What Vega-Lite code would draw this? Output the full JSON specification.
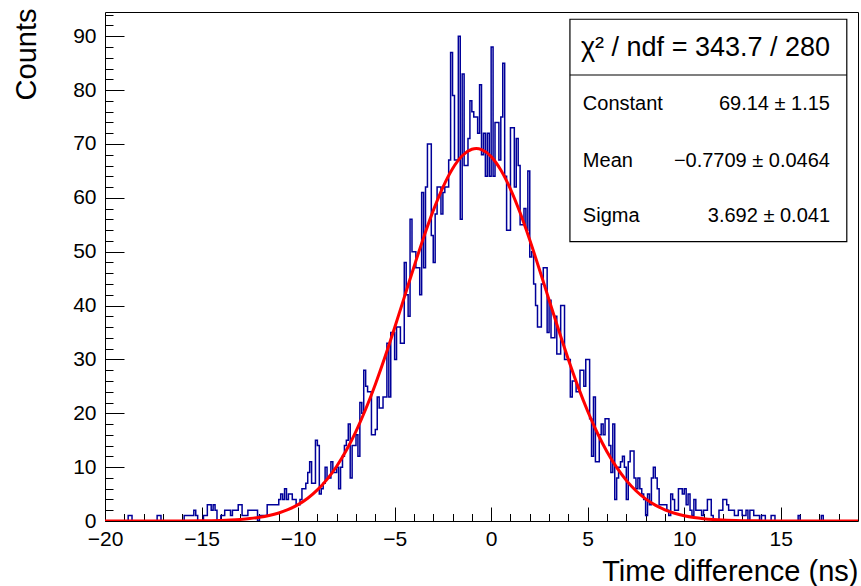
{
"$schema":"https://vega.github.io/schema/vega-lite/v6.json",
"width":753,"height":509,
"autosize":{"type":"none"},
"padding":{"left":105,"top":12,"right":3,"bottom":65},
"config":{"view":{"stroke":"black","strokeWidth":1},"font":"Liberation Sans","axis":{"labelFont":"Liberation Sans","titleFont":"Liberation Sans","labelColor":"black","titleColor":"black","tickColor":"black","grid":false,"domain":false}},
"datasets":{
"one":[{}],
"hist":[
{"t":-20.0,"n":0},{"t":-19.9,"n":0},{"t":-19.8,"n":0},{"t":-19.7,"n":0},{"t":-19.6,"n":0},{"t":-19.5,"n":0},{"t":-19.4,"n":0},{"t":-19.3,"n":0},{"t":-19.2,"n":0},{"t":-19.1,"n":0},
{"t":-19.0,"n":0},{"t":-18.9,"n":0},{"t":-18.8,"n":1},{"t":-18.7,"n":1},{"t":-18.6,"n":0},{"t":-18.5,"n":0},{"t":-18.4,"n":0},{"t":-18.3,"n":0},{"t":-18.2,"n":0},{"t":-18.1,"n":0},
{"t":-18.0,"n":0},{"t":-17.9,"n":0},{"t":-17.8,"n":0},{"t":-17.7,"n":0},{"t":-17.6,"n":0},{"t":-17.5,"n":0},{"t":-17.4,"n":0},{"t":-17.3,"n":1},{"t":-17.2,"n":1},{"t":-17.1,"n":0},
{"t":-17.0,"n":0},{"t":-16.9,"n":0},{"t":-16.8,"n":0},{"t":-16.7,"n":0},{"t":-16.6,"n":0},{"t":-16.5,"n":0},{"t":-16.4,"n":0},{"t":-16.3,"n":0},{"t":-16.2,"n":0},{"t":-16.1,"n":0},
{"t":-16.0,"n":0},{"t":-15.9,"n":1},{"t":-15.8,"n":1},{"t":-15.7,"n":1},{"t":-15.6,"n":1},{"t":-15.5,"n":1},{"t":-15.4,"n":2},{"t":-15.3,"n":1},{"t":-15.2,"n":0},{"t":-15.1,"n":0},
{"t":-15.0,"n":0},{"t":-14.9,"n":1},{"t":-14.8,"n":1},{"t":-14.7,"n":3},{"t":-14.6,"n":3},{"t":-14.5,"n":2},{"t":-14.4,"n":3},{"t":-14.3,"n":2},{"t":-14.2,"n":0},{"t":-14.1,"n":0},
{"t":-14.0,"n":1},{"t":-13.9,"n":1},{"t":-13.8,"n":2},{"t":-13.7,"n":2},{"t":-13.6,"n":2},{"t":-13.5,"n":1},{"t":-13.4,"n":2},{"t":-13.3,"n":2},{"t":-13.2,"n":2},{"t":-13.1,"n":3},
{"t":-13.0,"n":3},{"t":-12.9,"n":1},{"t":-12.8,"n":1},{"t":-12.7,"n":1},{"t":-12.6,"n":2},{"t":-12.5,"n":2},{"t":-12.4,"n":2},{"t":-12.3,"n":2},{"t":-12.2,"n":2},{"t":-12.1,"n":0},
{"t":-12.0,"n":1},{"t":-11.9,"n":1},{"t":-11.8,"n":1},{"t":-11.7,"n":1},{"t":-11.6,"n":3},{"t":-11.5,"n":3},{"t":-11.4,"n":3},{"t":-11.3,"n":3},{"t":-11.2,"n":3},{"t":-11.1,"n":3},
{"t":-11.0,"n":4},{"t":-10.9,"n":5},{"t":-10.8,"n":4},{"t":-10.7,"n":6},{"t":-10.6,"n":4},{"t":-10.5,"n":5},{"t":-10.4,"n":5},{"t":-10.3,"n":4},{"t":-10.2,"n":4},{"t":-10.1,"n":3},
{"t":-10.0,"n":3},{"t":-9.9,"n":4},{"t":-9.8,"n":6},{"t":-9.7,"n":6},{"t":-9.6,"n":7},{"t":-9.5,"n":9},{"t":-9.4,"n":11},{"t":-9.3,"n":7},{"t":-9.2,"n":7},{"t":-9.1,"n":15},
{"t":-9.0,"n":14},{"t":-8.9,"n":5},{"t":-8.8,"n":6},{"t":-8.7,"n":7},{"t":-8.6,"n":10},{"t":-8.5,"n":8},{"t":-8.4,"n":8},{"t":-8.3,"n":11},{"t":-8.2,"n":9},{"t":-8.1,"n":9},
{"t":-8.0,"n":10},{"t":-7.9,"n":6},{"t":-7.8,"n":10},{"t":-7.7,"n":12},{"t":-7.6,"n":14},{"t":-7.5,"n":15},{"t":-7.4,"n":18},{"t":-7.3,"n":8},{"t":-7.2,"n":14},{"t":-7.1,"n":14},
{"t":-7.0,"n":16},{"t":-6.9,"n":12},{"t":-6.8,"n":22},{"t":-6.7,"n":20},{"t":-6.6,"n":28},{"t":-6.5,"n":25},{"t":-6.4,"n":24},{"t":-6.3,"n":24},{"t":-6.2,"n":16},{"t":-6.1,"n":16},
{"t":-6.0,"n":17},{"t":-5.9,"n":23},{"t":-5.8,"n":21},{"t":-5.7,"n":21},{"t":-5.6,"n":23},{"t":-5.5,"n":23},{"t":-5.4,"n":33},{"t":-5.3,"n":23},{"t":-5.2,"n":35},{"t":-5.1,"n":35},
{"t":-5.0,"n":30},{"t":-4.9,"n":36},{"t":-4.8,"n":36},{"t":-4.7,"n":33},{"t":-4.6,"n":33},{"t":-4.5,"n":48},{"t":-4.4,"n":42},{"t":-4.3,"n":38},{"t":-4.2,"n":56},{"t":-4.1,"n":50},
{"t":-4.0,"n":50},{"t":-3.9,"n":47},{"t":-3.8,"n":47},{"t":-3.7,"n":42},{"t":-3.6,"n":61},{"t":-3.5,"n":47},{"t":-3.4,"n":62},{"t":-3.3,"n":70},{"t":-3.2,"n":70},{"t":-3.1,"n":53},
{"t":-3.0,"n":48},{"t":-2.9,"n":57},{"t":-2.8,"n":62},{"t":-2.7,"n":62},{"t":-2.6,"n":57},{"t":-2.5,"n":61},{"t":-2.4,"n":62},{"t":-2.3,"n":62},{"t":-2.2,"n":67},{"t":-2.1,"n":87},
{"t":-2.0,"n":79},{"t":-1.9,"n":67},{"t":-1.8,"n":67},{"t":-1.7,"n":90},{"t":-1.6,"n":56},{"t":-1.5,"n":83},{"t":-1.4,"n":66},{"t":-1.3,"n":66},{"t":-1.2,"n":71},{"t":-1.1,"n":78},
{"t":-1.0,"n":76},{"t":-0.9,"n":75},{"t":-0.8,"n":75},{"t":-0.7,"n":72},{"t":-0.6,"n":81},{"t":-0.5,"n":68},{"t":-0.4,"n":72},{"t":-0.3,"n":64},{"t":-0.2,"n":72},{"t":-0.1,"n":64},
{"t":0.0,"n":88},{"t":0.1,"n":64},{"t":0.2,"n":74},{"t":0.3,"n":74},{"t":0.4,"n":67},{"t":0.5,"n":75},{"t":0.6,"n":85},{"t":0.7,"n":64},{"t":0.8,"n":54},{"t":0.9,"n":54},
{"t":1.0,"n":73},{"t":1.1,"n":73},{"t":1.2,"n":62},{"t":1.3,"n":71},{"t":1.4,"n":66},{"t":1.5,"n":55},{"t":1.6,"n":55},{"t":1.7,"n":58},{"t":1.8,"n":54},{"t":1.9,"n":65},
{"t":2.0,"n":49},{"t":2.1,"n":50},{"t":2.2,"n":44},{"t":2.3,"n":40},{"t":2.4,"n":36},{"t":2.5,"n":36},{"t":2.6,"n":44},{"t":2.7,"n":47},{"t":2.8,"n":47},{"t":2.9,"n":35},
{"t":3.0,"n":41},{"t":3.1,"n":34},{"t":3.2,"n":34},{"t":3.3,"n":38},{"t":3.4,"n":31},{"t":3.5,"n":31},{"t":3.6,"n":40},{"t":3.7,"n":40},{"t":3.8,"n":30},{"t":3.9,"n":30},
{"t":4.0,"n":30},{"t":4.1,"n":23},{"t":4.2,"n":26},{"t":4.3,"n":26},{"t":4.4,"n":24},{"t":4.5,"n":24},{"t":4.6,"n":28},{"t":4.7,"n":28},{"t":4.8,"n":25},{"t":4.9,"n":30},
{"t":5.0,"n":30},{"t":5.1,"n":19},{"t":5.2,"n":12},{"t":5.3,"n":23},{"t":5.4,"n":11},{"t":5.5,"n":11},{"t":5.6,"n":16},{"t":5.7,"n":18},{"t":5.8,"n":16},{"t":5.9,"n":19},
{"t":6.0,"n":19},{"t":6.1,"n":14},{"t":6.2,"n":9},{"t":6.3,"n":18},{"t":6.4,"n":4},{"t":6.5,"n":8},{"t":6.6,"n":10},{"t":6.7,"n":11},{"t":6.8,"n":12},{"t":6.9,"n":10},
{"t":7.0,"n":4},{"t":7.1,"n":11},{"t":7.2,"n":13},{"t":7.3,"n":13},{"t":7.4,"n":8},{"t":7.5,"n":6},{"t":7.6,"n":8},{"t":7.7,"n":6},{"t":7.8,"n":5},{"t":7.9,"n":4},
{"t":8.0,"n":1},{"t":8.1,"n":5},{"t":8.2,"n":3},{"t":8.3,"n":8},{"t":8.4,"n":10},{"t":8.5,"n":8},{"t":8.6,"n":6},{"t":8.7,"n":3},{"t":8.8,"n":3},{"t":8.9,"n":3},
{"t":9.0,"n":3},{"t":9.1,"n":2},{"t":9.2,"n":1},{"t":9.3,"n":5},{"t":9.4,"n":4},{"t":9.5,"n":2},{"t":9.6,"n":2},{"t":9.7,"n":6},{"t":9.8,"n":6},{"t":9.9,"n":5},
{"t":10.0,"n":6},{"t":10.1,"n":3},{"t":10.2,"n":5},{"t":10.3,"n":2},{"t":10.4,"n":1},{"t":10.5,"n":4},{"t":10.6,"n":2},{"t":10.7,"n":2},{"t":10.8,"n":2},{"t":10.9,"n":1},
{"t":11.0,"n":2},{"t":11.1,"n":2},{"t":11.2,"n":4},{"t":11.3,"n":4},{"t":11.4,"n":1},{"t":11.5,"n":0},{"t":11.6,"n":0},{"t":11.7,"n":0},{"t":11.8,"n":2},{"t":11.9,"n":2},
{"t":12.0,"n":4},{"t":12.1,"n":4},{"t":12.2,"n":3},{"t":12.3,"n":2},{"t":12.4,"n":2},{"t":12.5,"n":2},{"t":12.6,"n":1},{"t":12.7,"n":1},{"t":12.8,"n":2},{"t":12.9,"n":2},
{"t":13.0,"n":1},{"t":13.1,"n":1},{"t":13.2,"n":2},{"t":13.3,"n":0},{"t":13.4,"n":2},{"t":13.5,"n":2},{"t":13.6,"n":1},{"t":13.7,"n":1},{"t":13.8,"n":1},{"t":13.9,"n":0},
{"t":14.0,"n":1},{"t":14.1,"n":1},{"t":14.2,"n":0},{"t":14.3,"n":0},{"t":14.4,"n":0},{"t":14.5,"n":1},{"t":14.6,"n":1},{"t":14.7,"n":0},{"t":14.8,"n":0},{"t":14.9,"n":0},
{"t":15.0,"n":0},{"t":15.1,"n":0},{"t":15.2,"n":0},{"t":15.3,"n":0},{"t":15.4,"n":0},{"t":15.5,"n":0},{"t":15.6,"n":0},{"t":15.7,"n":0},{"t":15.8,"n":0},{"t":15.9,"n":1},
{"t":16.0,"n":0},{"t":16.1,"n":0},{"t":16.2,"n":0},{"t":16.3,"n":0},{"t":16.4,"n":0},{"t":16.5,"n":0},{"t":16.6,"n":0},{"t":16.7,"n":0},{"t":16.8,"n":0},{"t":16.9,"n":0},
{"t":17.0,"n":0},{"t":17.1,"n":1},{"t":17.2,"n":0},{"t":17.3,"n":0},{"t":17.4,"n":0},{"t":17.5,"n":0},{"t":17.6,"n":0},{"t":17.7,"n":0},{"t":17.8,"n":0},{"t":17.9,"n":0},
{"t":18.0,"n":0},{"t":18.1,"n":0},{"t":18.2,"n":0},{"t":18.3,"n":0},{"t":18.4,"n":0},{"t":18.5,"n":0},{"t":18.6,"n":0},{"t":18.7,"n":0},{"t":18.8,"n":0},{"t":18.9,"n":0},
{"t":19.0,"n":0}
],
"fit":[
{"x":-20,"y":0},{"x":-19,"y":0},{"x":-18,"y":0.001},{"x":-17,"y":0.004},{"x":-16,"y":0.014},{"x":-15,"y":0.041},{"x":-14.5,"y":0.069},{"x":-14,"y":0.113},{"x":-13.5,"y":0.181},{"x":-13,"y":0.286},{"x":-12.5,"y":0.444},{"x":-12,"y":0.678},{"x":-11.5,"y":1.014},{"x":-11,"y":1.489},{"x":-10.5,"y":2.148},{"x":-10,"y":3.041},{"x":-9.5,"y":4.225},{"x":-9,"y":5.766},{"x":-8.5,"y":7.73},{"x":-8,"y":10.17},{"x":-7.5,"y":13.14},{"x":-7,"y":16.66},{"x":-6.5,"y":20.74},{"x":-6,"y":25.36},{"x":-5.5,"y":30.44},{"x":-5,"y":35.88},{"x":-4.5,"y":41.51},{"x":-4,"y":47.16},{"x":-3.5,"y":52.61},{"x":-3,"y":57.62},{"x":-2.5,"y":61.96},{"x":-2,"y":65.41},{"x":-1.5,"y":67.81},{"x":-1,"y":69.01},{"x":-0.77,"y":69.14},{"x":-0.5,"y":68.95},{"x":0,"y":67.65},{"x":0.5,"y":65.16},{"x":1,"y":61.63},{"x":1.5,"y":57.22},{"x":2,"y":52.17},{"x":2.5,"y":46.7},{"x":3,"y":41.04},{"x":3.5,"y":35.41},{"x":4,"y":30.0},{"x":4.5,"y":24.95},{"x":5,"y":20.38},{"x":5.5,"y":16.34},{"x":6,"y":12.86},{"x":6.5,"y":9.94},{"x":7,"y":7.55},{"x":7.5,"y":5.62},{"x":8,"y":4.11},{"x":8.5,"y":2.955},{"x":9,"y":2.084},{"x":9.5,"y":1.442},{"x":10,"y":0.98},{"x":10.5,"y":0.655},{"x":11,"y":0.429},{"x":11.5,"y":0.276},{"x":12,"y":0.174},{"x":13,"y":0.066},{"x":14,"y":0.023},{"x":15,"y":0.007},{"x":16,"y":0.002},{"x":17,"y":0},{"x":19,"y":0}
]
},
"resolve":{"axis":{"x":"independent","y":"independent"}},
"layer":[
{"data":{"name":"hist"},
 "mark":{"type":"line","interpolate":"step-after","color":"#000099","strokeWidth":1.5,"clip":true},
 "encoding":{
  "x":{"field":"t","type":"quantitative","scale":{"domain":[-20,19],"nice":false,"zero":false},
   "axis":{"orient":"bottom","values":[-20,-15,-10,-5,0,5,10,15],"ticks":false,"labelFontSize":21,"labelPadding":24,"labelBaseline":"alphabetic","labelFlush":false,"labelOverlap":false,
    "title":"Time difference (ns)","titleFontSize":29,"titleFontWeight":"normal","titleAnchor":"end","titleAlign":"right","titleBaseline":"alphabetic","titleY":59}},
  "y":{"field":"n","type":"quantitative","scale":{"domain":[0,94.5],"nice":false,"zero":false},
   "axis":{"orient":"left","values":[0,10,20,30,40,50,60,70,80,90],"ticks":false,"labelFontSize":21,"labelPadding":9,"labelBaseline":"middle","labelAlign":"right","labelFlush":false,"labelOverlap":false,
    "title":"Counts","titleFontSize":29,"titleFontWeight":"normal","titleAnchor":"end","titleAngle":-90,"titleAlign":"right","titleBaseline":"alphabetic","titleX":-70,"titleY":-4}}
 }},
{"data":{"name":"fit"},
 "mark":{"type":"line","interpolate":"monotone","color":"#ff0000","strokeWidth":3,"clip":true},
 "encoding":{
  "x":{"field":"x","type":"quantitative","scale":{"domain":[-20,19],"nice":false,"zero":false},
   "axis":{"orient":"bottom","values":[-20,-15,-10,-5,0,5,10,15],"offset":-14,"tickSize":14,"tickWidth":1,"labels":false,"title":null}},
  "y":{"field":"y","type":"quantitative","scale":{"domain":[0,94.5],"nice":false,"zero":false},
   "axis":{"orient":"left","values":[0,10,20,30,40,50,60,70,80,90],"offset":-19,"tickSize":19,"tickWidth":1,"labels":false,"title":null}}
 }},
{"data":{"name":"one"},
 "mark":{"type":"rect","fill":"white","stroke":"black","strokeWidth":1.2},
 "encoding":{
  "x":{"datum":4.08,"type":"quantitative","scale":{"domain":[-20,19],"nice":false,"zero":false},
   "axis":{"orient":"bottom","values":[-19,-18,-17,-16,-14,-13,-12,-11,-9,-8,-7,-6,-4,-3,-2,-1,1,2,3,4,6,7,8,9,11,12,13,14,16,17,18],"offset":-7.5,"tickSize":7.5,"tickWidth":1,"labels":false,"title":null}},
  "x2":{"datum":18.42},
  "y":{"datum":93.15,"type":"quantitative","scale":{"domain":[0,94.5],"nice":false,"zero":false},
   "axis":{"orient":"left","values":[2,4,6,8,12,14,16,18,22,24,26,28,32,34,36,38,42,44,46,48,52,54,56,58,62,64,66,68,72,74,76,78,82,84,86,88,92,94],"offset":-8,"tickSize":8,"tickWidth":1,"labels":false,"title":null}},
  "y2":{"datum":51.86}
 }},
{"data":{"name":"one"},
 "mark":{"type":"rule","color":"black","strokeWidth":1.2},
 "encoding":{"x":{"datum":4.08,"type":"quantitative","axis":null},"x2":{"datum":18.42},"y":{"datum":82.8,"type":"quantitative","axis":null}}},
{"data":{"name":"one"},
 "mark":{"type":"text","align":"center","baseline":"alphabetic","fontSize":27,"font":"Liberation Sans","color":"black"},
 "encoding":{"x":{"datum":11.1,"type":"quantitative","axis":null},"y":{"datum":86.3,"type":"quantitative","axis":null},"text":{"value":"χ² / ndf = 343.7 / 280"}}},
{"data":{"name":"one"},
 "mark":{"type":"text","align":"left","baseline":"alphabetic","fontSize":20,"font":"Liberation Sans","color":"black"},
 "encoding":{"x":{"datum":4.75,"type":"quantitative","axis":null},"y":{"datum":76.3,"type":"quantitative","axis":null},"text":{"value":"Constant"}}},
{"data":{"name":"one"},
 "mark":{"type":"text","align":"left","baseline":"alphabetic","fontSize":20,"font":"Liberation Sans","color":"black"},
 "encoding":{"x":{"datum":4.75,"type":"quantitative","axis":null},"y":{"datum":65.8,"type":"quantitative","axis":null},"text":{"value":"Mean"}}},
{"data":{"name":"one"},
 "mark":{"type":"text","align":"left","baseline":"alphabetic","fontSize":20,"font":"Liberation Sans","color":"black"},
 "encoding":{"x":{"datum":4.75,"type":"quantitative","axis":null},"y":{"datum":55.6,"type":"quantitative","axis":null},"text":{"value":"Sigma"}}},
{"data":{"name":"one"},
 "mark":{"type":"text","align":"right","baseline":"alphabetic","fontSize":20,"font":"Liberation Sans","color":"black"},
 "encoding":{"x":{"datum":17.55,"type":"quantitative","axis":null},"y":{"datum":76.3,"type":"quantitative","axis":null},"text":{"value":"69.14 ± 1.15"}}},
{"data":{"name":"one"},
 "mark":{"type":"text","align":"right","baseline":"alphabetic","fontSize":20,"font":"Liberation Sans","color":"black"},
 "encoding":{"x":{"datum":17.55,"type":"quantitative","axis":null},"y":{"datum":65.8,"type":"quantitative","axis":null},"text":{"value":"−0.7709 ± 0.0464"}}},
{"data":{"name":"one"},
 "mark":{"type":"text","align":"right","baseline":"alphabetic","fontSize":20,"font":"Liberation Sans","color":"black"},
 "encoding":{"x":{"datum":17.55,"type":"quantitative","axis":null},"y":{"datum":55.6,"type":"quantitative","axis":null},"text":{"value":"3.692 ± 0.041"}}}
]
}
